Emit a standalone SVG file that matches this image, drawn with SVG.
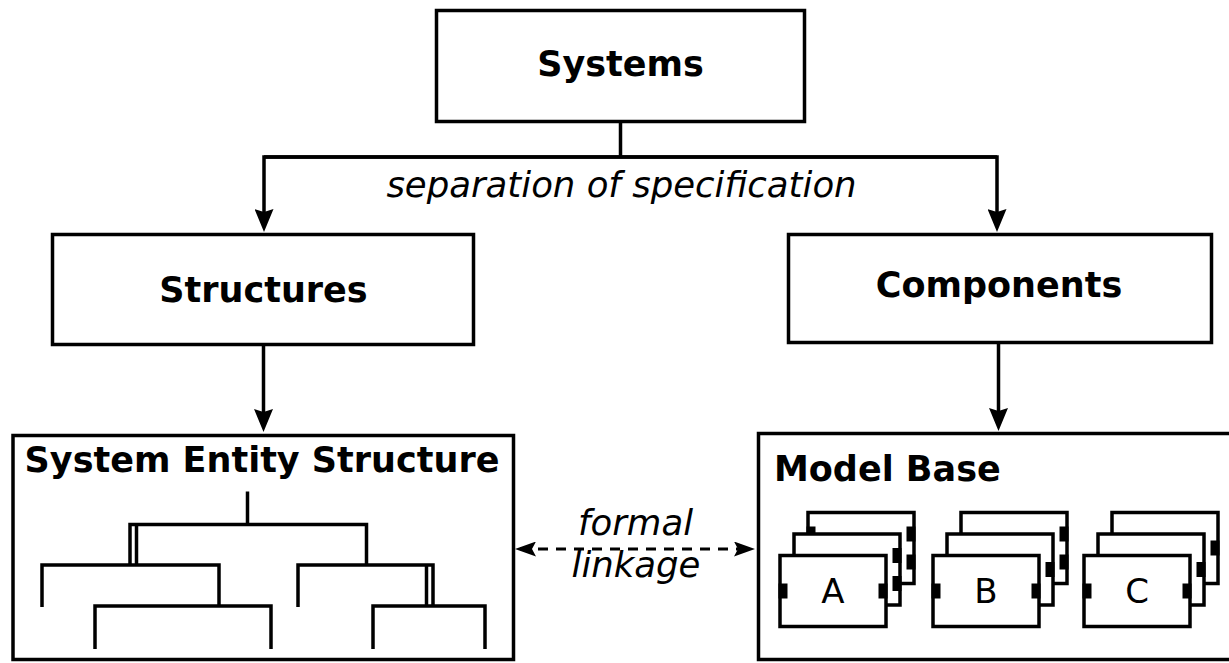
<svg xmlns="http://www.w3.org/2000/svg" width="1229" height="663" viewBox="0 0 1229 663">
  <style>
    .box { fill: #ffffff; stroke: #000000; stroke-width: 3.5; }
    .line { fill: none; stroke: #000000; stroke-width: 3.5; }
    .dash { fill: none; stroke: #000000; stroke-width: 3.2; stroke-dasharray: 10 8; }
    .port { fill: #000000; stroke: none; }
    .title { font-family: "DejaVu Sans", "Liberation Sans", sans-serif; font-weight: bold; font-size: 35px; fill: #000000; }
    .label { font-family: "DejaVu Sans", "Liberation Sans", sans-serif; font-style: italic; font-size: 35.5px; fill: #000000; }
    .letter { font-family: "DejaVu Sans", "Liberation Sans", sans-serif; font-size: 34px; fill: #000000; }
    .mid { text-anchor: middle; }
  </style>
  <defs>
    <marker id="arrow" markerUnits="userSpaceOnUse" viewBox="0 0 23 19" refX="17" refY="9.5" markerWidth="23" markerHeight="19" orient="auto">
      <path d="M23,9.5 L0,0 L3,9.5 L0,19 Z" fill="#000000"/>
    </marker>
    <marker id="arrowSmall" markerUnits="userSpaceOnUse" viewBox="0 0 21 15" refX="16" refY="7.5" markerWidth="21" markerHeight="15" orient="auto-start-reverse">
      <path d="M21,7.5 L0,0 L4,7.5 L0,15 Z" fill="#000000"/>
    </marker>
  </defs>

  <rect width="1229" height="663" fill="#ffffff"/>

  <!-- connectors -->
  <g id="connectors">
    <path class="line" d="M620.5,122 V157"/>
    <path class="line" d="M997,157 H264 V226" marker-end="url(#arrow)"/>
    <path class="line" d="M264,157 H997 V226" marker-end="url(#arrow)"/>
    <path class="line" d="M263.5,346 V426" marker-end="url(#arrow)"/>
    <path class="line" d="M998.5,344 V425" marker-end="url(#arrow)"/>
    <path class="dash" d="M520,549 H750" marker-start="url(#arrowSmall)" marker-end="url(#arrowSmall)"/>
    <text class="label mid" x="621.5" y="197">separation of specification</text>
    <text class="label mid" x="635.5" y="535">formal</text>
    <text class="label mid" x="636" y="577">linkage</text>
  </g>

  <!-- Systems -->
  <g id="systems">
    <rect class="box" x="436.5" y="10.5" width="368" height="111"/>
    <text class="title mid" x="620.5" y="76">Systems</text>
  </g>

  <!-- Structures -->
  <g id="structures">
    <rect class="box" x="52.5" y="234.5" width="421" height="110"/>
    <text class="title mid" x="263.5" y="302">Structures</text>
  </g>

  <!-- Components -->
  <g id="components">
    <rect class="box" x="788.5" y="234.5" width="423" height="108"/>
    <text class="title mid" x="999" y="297">Components</text>
  </g>

  <!-- System Entity Structure with its tree -->
  <g id="ses">
    <rect class="box" x="13" y="435.5" width="500.5" height="224"/>
    <text class="title mid" x="262" y="472">System Entity Structure</text>
    <g class="tree">
      <path class="line" d="M247.5,491.5 V524.5"/>
      <path class="line" d="M130,565 V524.5 H366.5 V565"/>
      <path class="line" d="M136.5,524.5 V565"/>
      <path class="line" d="M42,607 V565 H219 V606"/>
      <path class="line" d="M95,649 V606 H271 V649"/>
      <path class="line" d="M298,607 V565 H433 V606"/>
      <path class="line" d="M426.5,565 V606"/>
      <path class="line" d="M373,649 V606 H485 V649"/>
    </g>
  </g>

  <!-- Model Base with component stacks -->
  <g id="model-base">
    <rect class="box" x="758.5" y="433.5" width="490" height="226"/>
    <text class="title" x="774" y="481">Model Base</text>

    <!-- stack A -->
    <g id="stack-a" transform="translate(780,555.5)">
      <rect class="box" x="28" y="-43" width="106" height="71"/>
      <rect class="port" x="26.5" y="-29" width="9" height="15"/>
      <rect class="port" x="126.5" y="-29" width="9" height="15"/>
      <rect class="port" x="126.5" y="-1" width="9" height="15"/>
      <rect class="box" x="14" y="-21.5" width="106" height="71"/>
      <rect class="port" x="112.5" y="-7.5" width="9" height="15"/>
      <rect class="port" x="112.5" y="20.5" width="9" height="15"/>
      <rect class="box" x="0" y="0" width="106" height="71"/>
      <rect class="port" x="-1.5" y="28" width="9" height="15"/>
      <rect class="port" x="98.5" y="28" width="9" height="15"/>
      <text class="letter mid" x="53" y="47">A</text>
    </g>

    <!-- stack B -->
    <g id="stack-b" transform="translate(933,555.5)">
      <rect class="box" x="28" y="-43" width="106" height="71"/>
      <rect class="port" x="126.5" y="-29" width="9" height="15"/>
      <rect class="port" x="126.5" y="-1" width="9" height="15"/>
      <rect class="box" x="14" y="-21.5" width="106" height="71"/>
      <rect class="port" x="112.5" y="6.5" width="9" height="15"/>
      <rect class="box" x="0" y="0" width="106" height="71"/>
      <rect class="port" x="-1.5" y="28" width="9" height="15"/>
      <rect class="port" x="98.5" y="28" width="9" height="15"/>
      <text class="letter mid" x="53" y="47">B</text>
    </g>

    <!-- stack C -->
    <g id="stack-c" transform="translate(1084,555.5)">
      <rect class="box" x="28" y="-43" width="106" height="71"/>
      <rect class="port" x="126.5" y="-15" width="9" height="15"/>
      <rect class="box" x="14" y="-21.5" width="106" height="71"/>
      <rect class="port" x="112.5" y="6.5" width="9" height="15"/>
      <rect class="box" x="0" y="0" width="106" height="71"/>
      <rect class="port" x="-1.5" y="28" width="9" height="15"/>
      <rect class="port" x="98.5" y="28" width="9" height="15"/>
      <text class="letter mid" x="53" y="47">C</text>
    </g>
  </g>
</svg>
